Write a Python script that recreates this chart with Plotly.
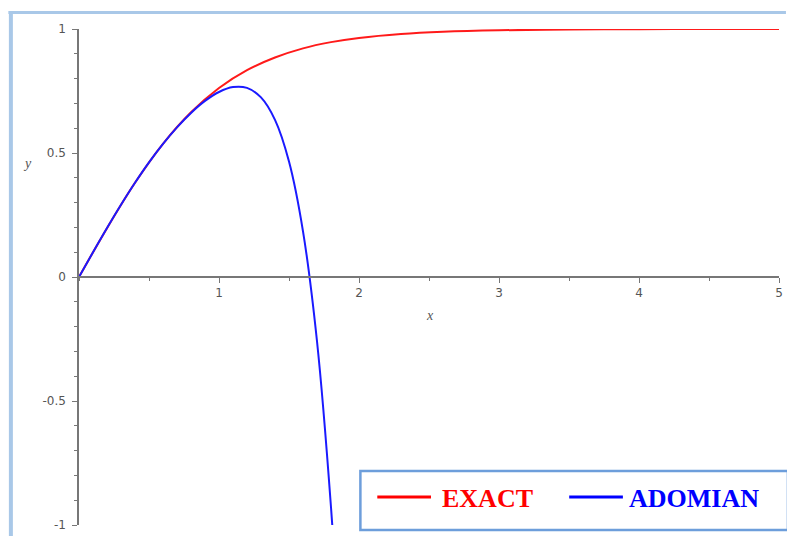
import plotly.graph_objects as go

# values
x_exact = [0, 0.2, 0.4, 0.6, 0.8, 1.0, 1.2, 1.4, 1.6, 1.8, 2.0, 2.3, 2.6, 3.0, 3.5, 4.0, 4.5, 5.0]
y_exact = [0, 0.197, 0.380, 0.537, 0.664, 0.762, 0.834, 0.885, 0.922, 0.947, 0.964, 0.980, 0.989,
           0.995, 0.998, 0.999, 1.0, 1.0]

x_adomian = [0, 0.1, 0.2, 0.3, 0.4, 0.5, 0.6, 0.7, 0.8, 0.9, 1.0, 1.1, 1.2, 1.3, 1.4, 1.5,
             1.6, 1.7, 1.8, 1.85]
y_adomian = [0, 0.0997, 0.1974, 0.2913, 0.3799, 0.4621, 0.5369, 0.6035, 0.6617, 0.7100,
             0.7460, 0.7659, 0.7624, 0.7241, 0.6335, 0.4654, 0.1841, -0.2591, -0.9285, -1.374]

x_ticks = [1, 2, 3, 4, 5]
y_ticks = [-1, -0.5, 0, 0.5, 1]
y_ticktext = ["-1", "-0.5", "0", "0.5", "1"]

W, H = 787, 536
L, R, T, B = 79, 4, 29, 11
pw, ph = W - L - R, H - T - B


def px(x):
    return (x - L) / pw


def py(y):
    return (H - B - y) / ph


fig = go.Figure()
fig.add_trace(go.Scatter(x=x_exact, y=y_exact, mode="lines", name="EXACT",
                         line=dict(color="#ff1a1a", width=2, shape="spline")))
fig.add_trace(go.Scatter(x=x_adomian, y=y_adomian, mode="lines", name="ADOMIAN",
                         line=dict(color="#1a1aff", width=2, shape="spline")))

tickfont = dict(family="DejaVu Sans", size=12, color="#555555")
fig.update_xaxes(range=[0, 5], anchor="free", position=0.5, showgrid=False, zeroline=False,
                 showline=True, linecolor="#777777", linewidth=1.5,
                 tickvals=x_ticks, ticks="outside", ticklen=5, tickcolor="#777777",
                 tickfont=tickfont,
                 minor=dict(dtick=0.5, tick0=0, ticks="outside", ticklen=3, tickcolor="#777777"))
fig.update_yaxes(range=[-1, 1], showgrid=False, zeroline=False,
                 showline=True, linecolor="#777777", linewidth=1.5,
                 tickvals=y_ticks, ticktext=y_ticktext, ticks="outside", ticklen=5,
                 tickcolor="#777777", tickfont=tickfont, ticklabelstandoff=4,
                 minor=dict(dtick=0.1, tick0=0, ticks="outside", ticklen=3, tickcolor="#777777"))

shapes = [
    # window frame
    dict(type="line", xref="paper", yref="paper", x0=px(8), x1=px(790), y0=py(12.5), y1=py(12.5),
         line=dict(color="#a9c8e8", width=3)),
    dict(type="line", xref="paper", yref="paper", x0=px(10.5), x1=px(10.5), y0=py(11), y1=py(540),
         line=dict(color="#a9c8e8", width=4)),
    # legend box
    dict(type="rect", xref="paper", yref="paper", x0=px(362), x1=px(792), y0=py(530), y1=py(471),
         line=dict(color="#6d9edb", width=2.5), fillcolor="white"),
    dict(type="line", xref="paper", yref="paper", x0=px(379), x1=px(433), y0=py(497), y1=py(497),
         line=dict(color="#ff0000", width=3)),
    dict(type="line", xref="paper", yref="paper", x0=px(572), x1=px(626), y0=py(497), y1=py(497),
         line=dict(color="#0000ff", width=3)),
]

legfont = dict(family="Liberation Serif", size=26)
annotations = [
    dict(x=px(442), y=py(498), xref="paper", yref="paper", text="<b>EXACT</b>", showarrow=False,
         xanchor="left", yanchor="middle", font=dict(color="#ff0000", **legfont)),
    dict(x=px(630), y=py(498), xref="paper", yref="paper", text="<b>ADOMIAN</b>", showarrow=False,
         xanchor="left", yanchor="middle", font=dict(color="#0000ff", **legfont)),
    dict(x=px(21), y=py(154), xref="paper", yref="paper", text="<i>y</i>", showarrow=False,
         font=dict(family="Liberation Serif", size=14, color="#555555")),
    dict(x=px(432), y=py(315), xref="paper", yref="paper", text="<i>x</i>", showarrow=False,
         font=dict(family="Liberation Serif", size=14, color="#555555")),
]

fig.update_layout(width=W, height=H, margin=dict(l=L, r=R, t=T, b=B),
                  plot_bgcolor="white", paper_bgcolor="white", showlegend=False,
                  shapes=shapes, annotations=annotations)

# drop the browser's default page margin so the figure sits at the window corner
fig.write_html("out.html", config={"displayModeBar": False},
               post_script="document.body.style.margin='0';")
